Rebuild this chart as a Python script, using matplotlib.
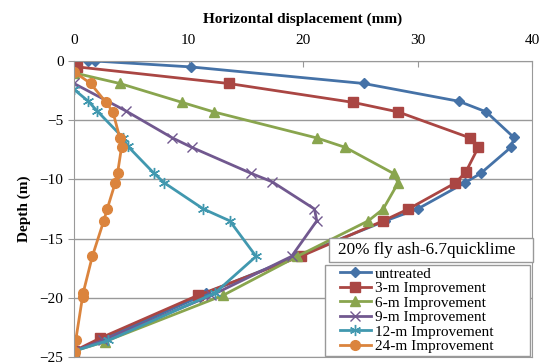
import matplotlib
matplotlib.use("Agg")
import matplotlib.pyplot as plt
from matplotlib.patches import Rectangle

plt.rcParams['font.family'] = ['Liberation Serif', 'DejaVu Serif']

# depth (m) and horizontal displacement (mm)
untreated_x = [1.2, 1.8, 10.2, 25.3, 33.6, 36.0, 38.4, 38.2, 35.5, 34.1, 30.0, 27.2, 19.5, 11.5, 11.0, 2.5, 0.0]
untreated_y = [0, 0, -0.5, -1.9, -3.4, -4.3, -6.45, -7.25, -9.5, -10.3, -12.5, -13.5, -16.5, -19.6, -19.9, -23.5, -24.5]

imp3_x = [0.3, 13.5, 24.4, 28.3, 34.6, 35.3, 34.2, 33.3, 29.2, 27.0, 19.8, 10.8, 2.3, 0.0]
imp3_y = [-0.5, -1.9, -3.5, -4.3, -6.5, -7.3, -9.4, -10.3, -12.5, -13.5, -16.5, -19.8, -23.4, -24.5]

imp6_x = [0.0, 4.0, 9.45, 12.2, 21.2, 23.7, 27.9, 28.3, 27.0, 25.7, 19.5, 13.0, 2.7, 0.0]
imp6_y = [-1.0, -1.9, -3.5, -4.3, -6.5, -7.3, -9.5, -10.3, -12.5, -13.5, -16.5, -19.8, -23.7, -24.5]

imp9_x = [0.0, 4.5, 8.6, 10.3, 15.5, 17.3, 21.0, 21.2, 19.0, 12.0, 2.5, 0.0]
imp9_y = [-1.9, -4.2, -6.5, -7.3, -9.5, -10.2, -12.5, -13.5, -16.5, -19.8, -23.6, -24.5]

imp12_x = [0.0, 1.25, 2.0, 4.3, 4.7, 7.0, 7.9, 11.3, 13.6, 15.9, 12.3, 3.0, 0.0]
imp12_y = [-2.4, -3.4, -4.2, -6.5, -7.2, -9.5, -10.3, -12.5, -13.5, -16.5, -19.6, -23.6, -24.5]

imp24_x = [0.0, 1.45, 2.8, 3.4, 4.0, 4.15, 3.8, 3.6, 2.9, 2.6, 1.6, 0.8, 0.75, 0.15, 0.1]
imp24_y = [-0.9, -1.9, -3.5, -4.3, -6.5, -7.3, -9.5, -10.3, -12.5, -13.5, -16.5, -19.6, -19.9, -23.6, -24.6]

labels = ['untreated', '3-m Improvement', '6-m Improvement', '9-m Improvement',
          '12-m Improvement', '24-m Improvement']

W, H = 546, 363

fig = plt.figure(figsize=(5.46, 3.63), dpi=100)
ax = fig.add_axes([0.1355, 0.0165, 0.839, 0.8155])

ax.plot(untreated_x, untreated_y, color='#4572A7', lw=2, marker='D', ms=5, label=labels[0])
ax.plot(imp3_x, imp3_y, color='#AA4643', lw=2, marker='s', ms=7, label=labels[1])
ax.plot(imp6_x, imp6_y, color='#89A54E', lw=2, marker='^', ms=7, label=labels[2])
ax.plot(imp9_x, imp9_y, color='#71588F', lw=2, marker='x', ms=7, mew=1, label=labels[3])
ax.plot(imp12_x, imp12_y, color='#4198AF', lw=2, marker=(6, 2, 0), ms=8, mew=1, label=labels[4])
ax.plot(imp24_x, imp24_y, color='#DB843D', lw=2, marker='o', ms=7, label=labels[5])

ax.set_xlim(0, 40)
ax.set_ylim(-25, 0)
ax.set_xticks([0, 10, 20, 30, 40])
ax.set_yticks([0, -5, -10, -15, -20, -25])
ax.xaxis.tick_top()
ax.xaxis.set_label_position('top')
ax.tick_params(axis='x', direction='in', length=4, color='#999999', labelsize=11, pad=10)
ax.tick_params(axis='y', direction='out', length=4, color='#999999', labelsize=11)
ax.grid(axis='y', color='#999999', lw=1)
ax.set_axisbelow(True)
for s in ax.spines.values():
    s.set_color('#999999')

ax.set_xlabel('Horizontal displacement (mm)', fontweight='bold', fontsize=11, labelpad=8)
ax.set_ylabel('Depth (m)', fontweight='bold', fontsize=11, labelpad=6)

# text box
fig.add_artist(Rectangle((329 / W, 1 - 262 / H), 204 / W, 24 / H, transform=fig.transFigure,
                         fc='white', ec='#999999', lw=1, zorder=5))
fig.text(338 / W, 1 - 250 / H, '20% fly ash-6.7quicklime', fontsize=12.3, va='center', ha='left', zorder=6)

# legend box (white, covers the lines) with the entries inside
fig.add_artist(Rectangle((325 / W, 1 - 356 / H), 205 / W, 91 / H, transform=fig.transFigure,
                         fc='white', ec='#999999', lw=1, zorder=5))
handles, _ = ax.get_legend_handles_labels()
leg = fig.legend(handles, labels, loc='upper left', bbox_to_anchor=(340 / W, 1 - 267 / H),
                 fontsize=11, frameon=False, borderpad=0, labelspacing=0.05, handlelength=2.0,
                 handletextpad=0.3, borderaxespad=0)
leg.set_zorder(6)

fig.savefig('out.png', dpi=100)
